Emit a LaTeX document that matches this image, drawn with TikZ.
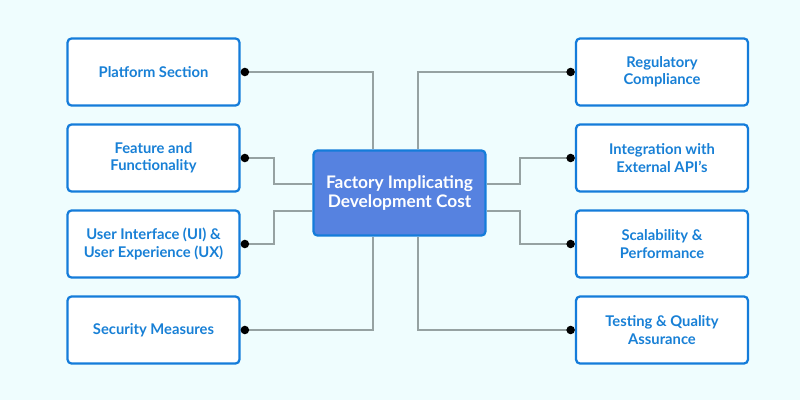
\documentclass[tikz,border=0pt]{standalone}
\usepackage{fontspec}
\setmainfont{Lato}
\usetikzlibrary{arrows.meta}
\usetikzlibrary{positioning}
\definecolor{bgcol}{RGB}{239,253,254}
\definecolor{boxblue}{RGB}{20,124,218}
\definecolor{textblue}{RGB}{24,128,214}
\definecolor{midfill}{RGB}{86,130,224}
\definecolor{wiregray}{RGB}{150,162,162}
\tikzset{
    Factor/.style = {rectangle, rounded corners=3pt, draw=boxblue, line width=1.6pt, fill=white,
        minimum width=4.3cm, minimum height=1.68cm, align=center, text=textblue,
        font=\bfseries\fontsize{10.5}{12.3}\selectfont}
}
\tikzset{
    Core/.style = {rectangle, rounded corners=3pt, draw=boxblue, line width=1.6pt, fill=midfill,
        minimum width=4.3cm, minimum height=2.13cm, align=center, text=white,
        font=\bfseries\fontsize{12.3}{13}\selectfont}
}
\tikzset{
    Edge/.style = {draw=wiregray, line width=0.8pt, {Circle[length=6pt,black]}-}
}

\begin{document}
\begin{tikzpicture}[x=0.025cm, y=-0.025cm]
\fill[bgcol] (0,0) rectangle (800,400);
\useasboundingbox (0,0) rectangle (800,400);
\node[Core] at (399.5,193) (fc) {Factory Implicating\\Development Cost};
% left side
\node[Factor] at (153.5,72) (ps) {Platform Section};
\node[Factor] at (153.5,158) (ff) {Feature and\\Functionality};
\node[Factor] at (153.5,244) (ux) {User Interface (UI) \&\\User Experience (UX)};
\node[Factor] at (153.5,330) (sm) {Security Measures};
% right side
\node[Factor] at (662,72) (rc) {Regulatory\\Compliance};
\node[Factor] at (662,158) (ie) {Integration with\\External API's};
\node[Factor] at (662,244) (sp) {Scalability \&\\Performance};
\node[Factor] at (662,330) (tq) {Testing \& Quality\\Assurance};
\draw[Edge] (ps.east) -| (373,0 |- fc.north);
\draw[Edge] (ff.east) -| (274,184) -- (fc.west |- 274,184);
\draw[Edge] (ux.east) -| (274,211) -- (fc.west |- 274,211);
\draw[Edge] (sm.east) -| (373,0 |- fc.south);
\draw[Edge] (rc.west) -| (418,0 |- fc.north);
\draw[Edge] (ie.west) -| (520,184) -- (fc.east |- 520,184);
\draw[Edge] (sp.west) -| (520,211) -- (fc.east |- 520,211);
\draw[Edge] (tq.west) -| (418,0 |- fc.south);
\end{tikzpicture}
\end{document}
